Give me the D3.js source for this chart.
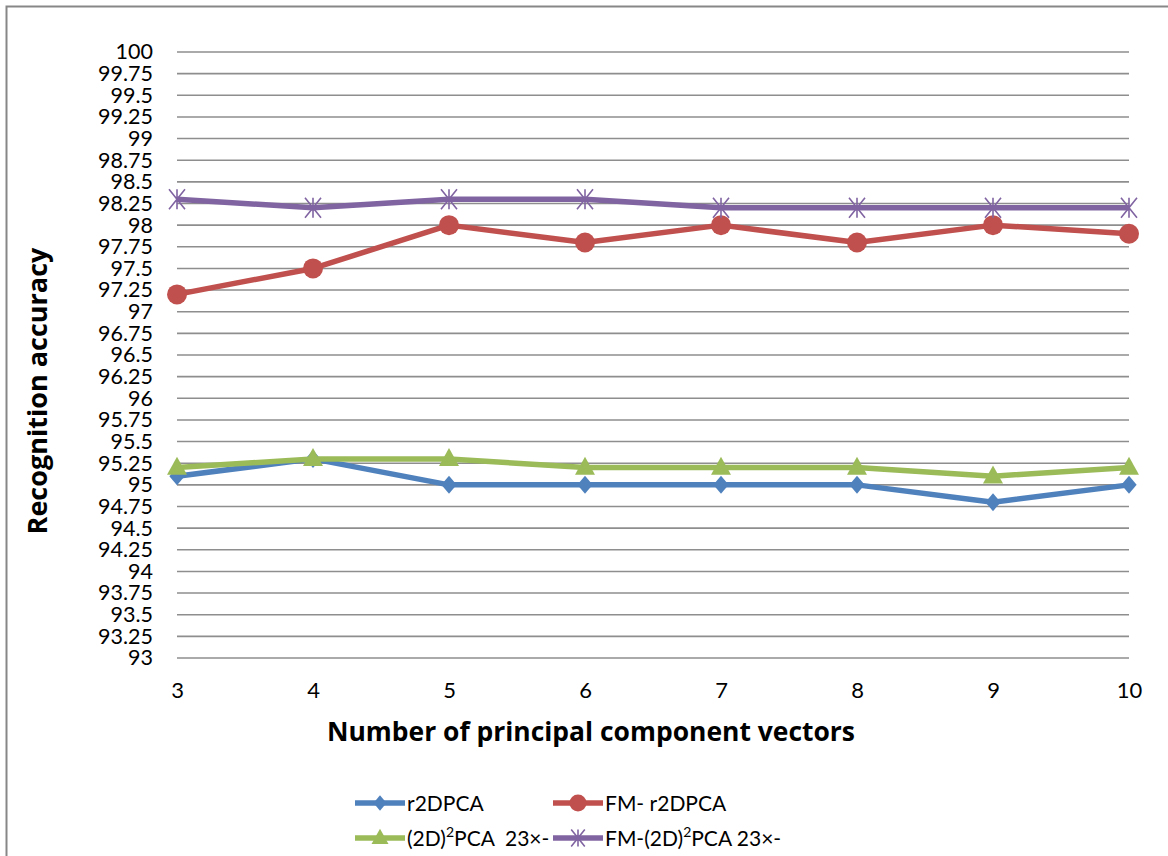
<!DOCTYPE html>
<html>
<head>
<meta charset="utf-8">
<script src="https://cdn.jsdelivr.net/npm/d3@7"></script>
<style>
  html, body { margin: 0; padding: 0; background: #fff; }
  svg { display: block; font-family: Lato, "Open Sans", sans-serif; }
</style>
</head>
<body>
<svg id="chart" width="1168" height="856"></svg>
<script>
// Number of principal component vectors
const categories = [3, 4, 5, 6, 7, 8, 9, 10];

// Recognition accuracy per method
const r2DPCA      = [95.1, 95.3, 95.0, 95.0, 95.0, 95.0, 94.8, 95.0];
const fmR2DPCA    = [97.2, 97.5, 98.0, 97.8, 98.0, 97.8, 98.0, 97.9];
const pca2D2      = [95.2, 95.3, 95.3, 95.2, 95.2, 95.2, 95.1, 95.2];
const fmPca2D2    = [98.3, 98.2, 98.3, 98.3, 98.2, 98.2, 98.2, 98.2];

const yTicks = d3.range(0, 29).map(i => 93 + i * 0.25);

const series = [
  { name: "r2DPCA", values: r2DPCA, color: "#4F81BD", marker: "diamond" },
  { name: "FM- r2DPCA", values: fmR2DPCA, color: "#C0504D", marker: "circle" },
  { name: "(2D)2PCA 23×-", values: pca2D2, color: "#9BBB59", marker: "triangle" },
  { name: "FM-(2D)2PCA 23×-", values: fmPca2D2, color: "#8064A2", marker: "star" }
];

const svg = d3.select("#chart");

// outer chart frame
svg.append("rect")
  .attr("x", 6.5).attr("y", 6.5)
  .attr("width", 1200).attr("height", 900)
  .attr("fill", "none").attr("stroke", "#878787").attr("stroke-width", 2);

const x = d3.scalePoint().domain(categories).range([177, 1129]);
const y = d3.scaleLinear().domain([93, 100]).range([658, 52]);

// horizontal gridlines
svg.append("g").selectAll("line").data(yTicks).join("line")
  .attr("x1", 177).attr("x2", 1129)
  .attr("y1", d => y(d)).attr("y2", d => y(d))
  .attr("stroke", "#8e8e8e").attr("stroke-width", 1.6);

// y axis tick labels
const yAxis = d3.axisLeft(y).tickValues(yTicks).tickSize(0).tickPadding(0)
  .tickFormat(d => String(+d.toFixed(2)));
const gy = svg.append("g").attr("transform", "translate(153,0)").call(yAxis);
gy.select(".domain").remove();
gy.selectAll("text").attr("font-size", 21.5).attr("fill", "#000")
  .attr("font-family", "Lato, sans-serif");

// x axis tick labels
const xAxis = d3.axisBottom(x).tickSize(0).tickPadding(0);
const gx = svg.append("g").attr("transform", "translate(0,682)").call(xAxis);
gx.select(".domain").remove();
gx.selectAll("text").attr("font-size", 22).attr("fill", "#000")
  .attr("font-family", "Lato, sans-serif");

// axis titles, sized so each spans its intended length
function fitTitle(t, target) {
  const w = t.node().getComputedTextLength();
  const fs = parseFloat(t.attr("font-size"));
  t.attr("font-size", (fs * target / w).toFixed(2));
}

const xTitle = svg.append("text")
  .attr("x", 591).attr("y", 741)
  .attr("text-anchor", "middle")
  .attr("font-family", "'Open Sans', sans-serif")
  .attr("font-size", 25).attr("font-weight", "bold")
  .text("Number of principal component vectors");
fitTitle(xTitle, 528);

const yTitle = svg.append("text")
  .attr("transform", "translate(47,391) rotate(-90)")
  .attr("text-anchor", "middle")
  .attr("font-family", "'Open Sans', sans-serif")
  .attr("font-size", 25).attr("font-weight", "bold")
  .text("Recognition accuracy");
fitTitle(yTitle, 287);

// marker shapes
function drawMarker(g, type, color, cx, cy, s) {
  s = s || 1;
  if (type === "diamond") {
    const r = 9 * s;
    g.append("path")
      .attr("d", `M${cx},${cy - r}L${cx + r * 0.85},${cy}L${cx},${cy + r}L${cx - r * 0.85},${cy}Z`)
      .attr("fill", color);
  } else if (type === "circle") {
    g.append("circle").attr("cx", cx).attr("cy", cy).attr("r", 10 * s).attr("fill", color);
  } else if (type === "triangle") {
    const h = 18 * s, w = 20 * s;
    g.append("path")
      .attr("d", `M${cx},${cy - h * 0.6}L${cx + w / 2},${cy + h * 0.4}L${cx - w / 2},${cy + h * 0.4}Z`)
      .attr("fill", color);
  } else if (type === "star") {
    const r = 10 * s;
    const a = r * 0.8;
    g.append("path")
      .attr("d", `M${cx - a},${cy - r}L${cx + a},${cy + r}M${cx + a},${cy - r}L${cx - a},${cy + r}M${cx},${cy - r}L${cx},${cy + r}`)
      .attr("stroke", color).attr("stroke-width", 1.6).attr("fill", "none");
  }
}

const line = d3.line().x((d, i) => x(categories[i])).y(d => y(d));

const plot = svg.append("g");
series.forEach(s => {
  plot.append("path")
    .datum(s.values)
    .attr("d", line)
    .attr("fill", "none")
    .attr("stroke", s.color)
    .attr("stroke-width", 5.5)
    .attr("stroke-linejoin", "round");
  const mg = plot.append("g");
  s.values.forEach((v, i) => drawMarker(mg, s.marker, s.color, x(categories[i]), y(v)));
});

// legend
const legendItems = [
  { s: series[0], x: 355, y: 803 },
  { s: series[1], x: 553, y: 803 },
  { s: series[2], x: 355, y: 838 },
  { s: series[3], x: 553, y: 838 }
];
const lg = svg.append("g");
legendItems.forEach(item => {
  lg.append("line")
    .attr("x1", item.x).attr("x2", item.x + 50)
    .attr("y1", item.y).attr("y2", item.y)
    .attr("stroke", item.s.color).attr("stroke-width", 5.5);
  drawMarker(lg, item.s.marker, item.s.color, item.x + 25, item.y, 0.85);
  const t = lg.append("text")
    .attr("x", item.x + 52).attr("y", item.y + 8)
    .attr("font-size", 21).attr("fill", "#000");
  const parts = item.s.name.split("2PCA");
  if (item.s.name.indexOf("(2D)2PCA") >= 0) {
    t.append("tspan").text(parts[0]);
    t.append("tspan").attr("font-size", 14).attr("dy", -9).text("2");
    t.append("tspan").attr("dy", 9).text("PCA" + (item.s === series[2] ? "\u00a0 " : " ") + parts[1].trim());
  } else {
    t.text(item.s.name);
  }
});
</script>
</body>
</html>
